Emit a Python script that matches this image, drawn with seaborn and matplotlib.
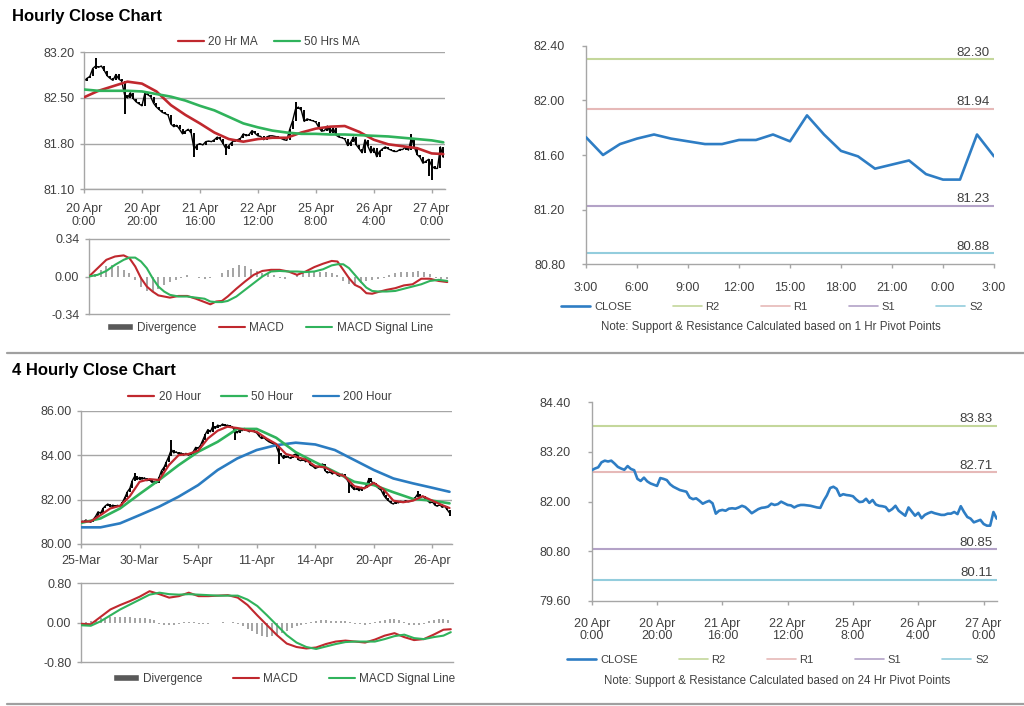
import numpy as np
import pandas as pd
import matplotlib
matplotlib.use("Agg")
import matplotlib.pyplot as plt
from matplotlib.lines import Line2D
from matplotlib.patches import Patch
import seaborn as sns

# ---------------- data ----------------
# hourly closes, 20 Apr 0:00 ... (bars 0-99)
hr_close_a = [
    82.76, 82.80, 82.83, 82.95, 82.99, 82.97, 82.99, 82.92, 82.84, 82.80,
    82.77, 82.86, 82.79, 82.76, 82.55, 82.50, 82.58, 82.49, 82.44, 82.41,
    82.38, 82.57, 82.55, 82.52, 82.42, 82.36, 82.32, 82.28, 82.26, 82.24,
    82.10, 82.06, 82.08, 82.02, 81.95, 81.99, 82.02, 81.96, 81.71, 81.78,
    81.80, 81.78, 81.83, 81.84, 81.83, 81.86, 81.90, 81.87, 81.80, 81.72,
    81.77, 81.82, 81.85, 81.86, 81.88, 81.95, 81.92, 81.94, 82.00, 81.96,
    81.92, 81.91, 81.86, 81.90, 81.92, 81.92, 81.91, 81.90, 81.88, 81.86,
    81.85, 82.02, 82.15, 82.33, 82.36, 82.31, 82.14, 82.18, 82.16, 82.15,
    82.13, 82.05, 81.99, 82.00, 82.07, 81.97, 82.04, 81.93, 81.90, 81.89,
    81.87, 81.77, 81.82, 81.90, 81.78, 81.72, 81.66, 81.86, 81.76, 81.66,
]
# last 24 hours (3:00 ... 3:00), also bars 100-124 of the hourly series
day_close = [81.73, 81.60, 81.68, 81.72, 81.75, 81.72, 81.70, 81.68, 81.68, 81.71,
             81.71, 81.75, 81.70, 81.89, 81.75, 81.63, 81.59, 81.50, 81.53, 81.56,
             81.46, 81.42, 81.42, 81.75, 81.59]
hr_close = hr_close_a + day_close
hr_spike_bars = [4, 14, 38, 49, 73, 113, 119, 120]
hr_spike_vals = [83.12, 82.25, 81.60, 81.63, 82.44, 81.95, 81.30, 81.25]

hr_ma_x = [0, 5, 10, 15, 20, 25, 30, 35, 40, 45, 50, 55, 60, 65, 70, 75, 80, 85,
           90, 95, 100, 105, 110, 115, 120, 124]
hr_ma20 = [82.51, 82.61, 82.68, 82.75, 82.72, 82.60, 82.39, 82.24, 82.11, 81.97,
           81.87, 81.83, 81.87, 81.89, 81.89, 81.97, 82.03, 82.06, 82.07, 81.98,
           81.86, 81.79, 81.76, 81.73, 81.65, 81.64]
hr_ma50 = [82.63, 82.61, 82.61, 82.61, 82.60, 82.56, 82.52, 82.46, 82.38, 82.31,
           82.21, 82.11, 82.05, 82.00, 81.97, 81.95, 81.95, 81.94, 81.94, 81.93,
           81.92, 81.91, 81.89, 81.87, 81.85, 81.82]

hr_macd_x = [0, 3, 6, 9, 12, 14, 16, 18, 20, 22, 24, 26, 28, 31, 34, 37, 40, 42, 44, 46,
             48, 51, 54, 57, 60, 63, 66, 69, 72, 75, 78, 81, 84, 86, 88, 90, 92, 94, 96,
             98, 100, 103, 106, 109, 112, 115, 118, 121, 124]
hr_macd = [0.00, 0.075, 0.15, 0.18, 0.19, 0.165, 0.09, -0.015, -0.09, -0.135,
           -0.17, -0.18, -0.19, -0.175, -0.175, -0.20, -0.23, -0.25, -0.225, -0.22,
           -0.18, -0.11, -0.045, 0.015, 0.05, 0.06, 0.06, 0.045, 0.015, 0.045,
           0.085, 0.115, 0.14, 0.135, 0.06, -0.015, -0.075, -0.10, -0.15, -0.155,
           -0.14, -0.12, -0.105, -0.08, -0.07, -0.02, -0.02, -0.04, -0.05]
hr_signal = [0.00, 0.015, 0.05, 0.105, 0.15, 0.17, 0.17, 0.135, 0.075, -0.015,
             -0.09, -0.135, -0.165, -0.18, -0.18, -0.19, -0.20, -0.225, -0.23, -0.23,
             -0.22, -0.18, -0.12, -0.06, 0.00, 0.045, 0.05, 0.045, 0.045, 0.04,
             0.045, 0.065, 0.10, 0.11, 0.11, 0.075, 0.015, -0.045, -0.10, -0.13,
             -0.135, -0.135, -0.13, -0.11, -0.09, -0.07, -0.04, -0.03, -0.04]
hr_div_x = list(range(0, 125, 2))
hr_div = [0.00, 0.02, 0.06, 0.09, 0.10, 0.09, 0.06, 0.03, -0.03, -0.09,
          -0.13, -0.13, -0.11, -0.08, -0.05, -0.03, -0.01, 0.01, 0.00, -0.01,
          -0.02, -0.01, 0.00, 0.03, 0.06, 0.08, 0.10, 0.09, 0.07, 0.05,
          0.03, 0.02, 0.01, -0.01, -0.02, 0.00, 0.02, 0.03, 0.04, 0.05,
          0.04, 0.04, 0.03, 0.01, -0.04, -0.07, -0.07, -0.06, -0.04, -0.03,
          -0.02, -0.01, 0.01, 0.03, 0.04, 0.04, 0.04, 0.05, 0.04, 0.02,
          -0.01, -0.02, -0.02]
hr_tick_pos = [0, 20, 40, 60, 80, 100, 120]
hr_tick_labels = ["20 Apr\n0:00", "20 Apr\n20:00", "21 Apr\n16:00", "22 Apr\n12:00",
                  "25 Apr\n8:00", "26 Apr\n4:00", "27 Apr\n0:00"]
day_tick_pos = [0, 3, 6, 9, 12, 15, 18, 21, 24]
day_tick_labels = ["3:00", "6:00", "9:00", "12:00", "15:00", "18:00", "21:00", "0:00", "3:00"]

pivot_names = ["R2", "R1", "S1", "S2"]
pivot_1h = [82.30, 81.94, 81.23, 80.88]
pivot_24h = [83.83, 82.71, 80.85, 80.11]

# 4-hourly closes, 25 Mar ...
h4_close = [
    81.05, 81.00, 81.08, 81.02, 80.98, 81.10, 81.25, 81.45, 81.38, 81.60,
    81.72, 81.80, 81.68, 81.75, 81.70, 81.74, 81.70, 81.88, 82.10, 82.35,
    82.50, 82.85, 83.05, 82.90, 83.00, 82.92, 82.98, 82.85, 82.90, 82.78,
    82.80, 82.75, 83.00, 83.30, 83.45, 83.70, 83.95, 84.25, 84.10, 84.15,
    84.05, 84.10, 84.00, 84.08, 84.00, 84.05, 84.15, 84.35, 84.30, 84.45,
    84.70, 84.95, 85.15, 85.05, 85.30, 85.20, 85.35, 85.30, 85.40, 85.32,
    85.35, 85.30, 85.28, 85.10, 85.00, 85.15, 85.10, 85.20, 85.12, 85.05,
    85.15, 85.05, 85.00, 84.85, 84.75, 84.78, 84.68, 84.60, 84.55, 84.50,
    84.40, 84.10, 84.00, 83.85, 83.95, 83.90, 83.85, 84.00, 84.05, 83.80,
    83.75, 83.85, 83.70, 83.78, 83.55, 83.50, 83.40, 83.45, 83.55, 83.60,
    83.30, 83.20, 83.25, 83.15, 83.25, 83.10, 83.05, 83.15, 83.00, 82.90,
    82.70, 82.55, 82.45, 82.50, 82.40, 82.55, 82.50, 82.65, 82.95, 82.80,
    82.75, 82.60, 82.50, 82.42, 82.20, 82.05, 81.95, 81.85, 81.80, 81.90,
    81.85, 81.92, 81.88, 81.95, 81.90, 81.92, 82.00, 82.10, 82.25, 82.10,
    82.15, 82.05, 81.95, 81.85, 81.90, 81.75, 81.70, 81.78, 81.65, 81.70,
    81.55, 81.40,
]
h4_spike_bars = [22, 37, 54, 63, 81, 110, 138, 151]
h4_spike_vals = [83.18, 84.70, 85.50, 84.70, 83.60, 82.30, 82.40, 81.25]

h4_ma20_x = list(range(0, 149, 4)) + [151]
h4_ma20 = [81.00, 81.02, 81.30, 81.60, 81.72, 82.15, 82.80, 82.92, 82.88, 83.55,
           84.00, 84.05, 84.20, 84.75, 85.10, 85.28, 85.22, 85.12, 85.05, 84.75,
           84.50, 84.05, 83.93, 83.80, 83.50, 83.45, 83.20, 83.05, 82.60, 82.50,
           82.75, 82.45, 81.95, 81.88, 81.95, 82.15, 81.95, 81.75, 81.62]
h4_ma_x = list(range(0, 145, 8)) + [151]
h4_ma50 = [80.95, 81.15, 81.60, 82.25, 82.88, 83.55, 84.15, 84.60, 85.18, 85.18,
           84.78, 84.13, 83.68, 83.25, 82.80, 82.65, 82.33, 82.03, 81.95, 81.83]
h4_ma200 = [80.75, 80.75, 80.93, 81.30, 81.68, 82.13, 82.65, 83.33, 83.85, 84.23,
            84.45, 84.56, 84.48, 84.23, 83.78, 83.33, 82.95, 82.73, 82.53, 82.35]

h4_macd_x = list(range(0, 149, 4)) + [151]
h4_macd = [-0.02, -0.03, 0.12, 0.27, 0.36, 0.44, 0.53, 0.64, 0.58, 0.51,
           0.54, 0.61, 0.54, 0.54, 0.55, 0.56, 0.51, 0.36, 0.15, -0.05,
           -0.25, -0.42, -0.49, -0.52, -0.50, -0.43, -0.38, -0.36, -0.38, -0.40,
           -0.34, -0.26, -0.21, -0.29, -0.35, -0.33, -0.24, -0.14, -0.13]
h4_signal = [-0.05, -0.06, 0.03, 0.15, 0.27, 0.37, 0.47, 0.57, 0.61, 0.58,
             0.57, 0.58, 0.57, 0.56, 0.55, 0.55, 0.55, 0.47, 0.34, 0.15,
             -0.05, -0.25, -0.40, -0.49, -0.53, -0.48, -0.43, -0.39, -0.38, -0.38,
             -0.38, -0.33, -0.27, -0.24, -0.31, -0.33, -0.29, -0.26, -0.19]
h4_div_x = list(range(0, 151, 2))
h4_div = [0.00, 0.01, 0.03, 0.06, 0.09, 0.10, 0.11, 0.12,
          0.12, 0.12, 0.11, 0.10, 0.10, 0.09, 0.08, 0.05,
          -0.02, -0.04, -0.05, -0.04, -0.02, 0.01, 0.02, 0.01,
          -0.02, -0.03, -0.02, -0.01, 0.00, 0.01, 0.00, 0.01,
          -0.03, -0.07, -0.12, -0.17, -0.22, -0.26, -0.28, -0.27,
          -0.24, -0.20, -0.16, -0.10, -0.06, -0.04, -0.02, 0.01,
          0.03, 0.05, 0.05, 0.04, 0.04, 0.03, 0.03, 0.02,
          -0.02, -0.03, -0.04, -0.03, 0.02, 0.04, 0.06, 0.07,
          0.07, 0.05, 0.02, -0.04, -0.05, -0.05, -0.03, 0.03,
          0.06, 0.07, 0.07, 0.06]
h4_tick_pos = [0, 24, 48, 72, 96, 120, 144]
h4_tick_labels = ["25-Mar", "30-Mar", "5-Apr", "11-Apr", "14-Apr", "20-Apr", "26-Apr"]

# ---------------- style ----------------
sns.set_style("ticks")
plt.rcParams["font.family"] = ["Liberation Sans", "DejaVu Sans"]

RED = "#c0282e"
GREEN = "#30b35c"
BLUE = "#2b7cc1"
CLOSE_BLUE = "#2e7dc4"
PIV_COLORS = ["#c4d79b", "#e6b9b8", "#b3a2c7", "#93cddd"]
AXC = "#a6a6a6"
TXT = "#404040"
DIVC = "#8c8c8c"

W, H = 1024, 706
fig = plt.figure(figsize=(W / 100, H / 100), dpi=100)


def add_ax(l, r, t, b):
    return fig.add_axes([l / W, 1 - b / H, (r - l) / W, (b - t) / H])


def base_style(ax, grid=False, xpad=7, ypad=4, size=9):
    for s in ["top", "right"]:
        ax.spines[s].set_visible(False)
    for s in ["left", "bottom"]:
        ax.spines[s].set_color(AXC)
        ax.spines[s].set_linewidth(1.0)
    ax.tick_params(axis="both", colors=AXC, labelcolor=TXT, labelsize=size,
                   length=3, width=1, direction="out")
    ax.tick_params(axis="x", pad=xpad)
    ax.tick_params(axis="y", pad=ypad)
    if grid:
        ax.yaxis.grid(True, color=AXC, lw=1.0)
        ax.set_axisbelow(True)
    ax.set_xlabel("")
    ax.set_ylabel("")


def draw_bars(ax, close, sb, sv):
    x = np.arange(len(close))
    c = np.array(close, dtype=float)
    o = np.r_[c[0], c[:-1]]
    lo = np.minimum(o, c)
    hi = np.maximum(o, c)
    for b, v in zip(sb, sv):
        hi[b] = max(hi[b], v)
        lo[b] = min(lo[b], v)
    ax.vlines(x, lo, hi, color="black", lw=1.4, zorder=2)
    sns.lineplot(x=x, y=c, ax=ax, color="black", lw=1.0, zorder=2)


def macd_panel(ax, mx, macd, sig, dx, div, lim, xmax):
    ax.vlines(dx, 0, div, color=DIVC, lw=1.1, zorder=2)
    sns.lineplot(x=mx, y=macd, ax=ax, color=RED, lw=1.5, zorder=3)
    sns.lineplot(x=mx, y=sig, ax=ax, color=GREEN, lw=1.5, zorder=3)
    ax.set_ylim(-lim, lim)
    ax.set_xlim(0, xmax)
    ax.set_yticks([-lim, 0, lim])
    ax.set_yticklabels([f"{-lim:.2f}", "0.00", f"{lim:.2f}"])
    ax.axhline(lim, color=AXC, lw=1.0, zorder=1, clip_on=False)
    base_style(ax)
    ax.set_xticks([])


def legend(handles, labels, cx, cy, size=8.5, hl=2.2, cs=1.4):
    fig.legend(handles, labels, loc="center", bbox_to_anchor=(cx / W, 1 - cy / H),
               ncol=len(handles), frameon=False, fontsize=size, handlelength=hl,
               handletextpad=0.35, columnspacing=cs, handleheight=0.5,
               labelcolor=TXT, borderaxespad=0, borderpad=0)


def pivot_panel(ax, close, xmax, piv, ylim, yticks):
    for v, col in zip(piv, PIV_COLORS):
        ax.axhline(v, color=col, lw=1.5, zorder=1)
        ax.annotate(f"{v:.2f}", xy=(1, v), xycoords=("axes fraction", "data"),
                    xytext=(-3, 2.5), textcoords="offset points", ha="right",
                    va="baseline", fontsize=9.5, color=TXT)
    sns.lineplot(x=np.arange(len(close)), y=close, ax=ax, color=CLOSE_BLUE, lw=1.9, zorder=3)
    ax.set_xlim(0, xmax)
    ax.set_ylim(*ylim)
    ax.set_yticks(yticks)
    ax.set_yticklabels([f"{t:.2f}" for t in yticks])


# ---------------- titles & separators ----------------
fig.text(12 / W, 1 - 16 / H, "Hourly Close Chart", fontsize=12, fontweight="bold",
         va="center", ha="left", color="black")
fig.text(12 / W, 1 - 370 / H, "4 Hourly Close Chart", fontsize=12, fontweight="bold",
         va="center", ha="left", color="black")
fig.add_artist(Line2D([7 / W, 1], [1 - 352.7 / H] * 2, color="#a0a0a0", lw=1.6))
fig.add_artist(Line2D([7 / W, 1], [1 - 704.3 / H] * 2, color="#a0a0a0", lw=1.6))

# ---------------- top-left: hourly price ----------------
ax1 = add_ax(84, 445, 52.3, 189.3)
draw_bars(ax1, hr_close, hr_spike_bars, hr_spike_vals)
sns.lineplot(x=hr_ma_x, y=hr_ma20, ax=ax1, color=RED, lw=1.9, zorder=3)
sns.lineplot(x=hr_ma_x, y=hr_ma50, ax=ax1, color=GREEN, lw=1.9, zorder=3)
ax1.set_xlim(0, 124.6)
ax1.set_ylim(81.10, 83.20)
ax1.set_yticks([81.10, 81.80, 82.50, 83.20])
ax1.set_yticklabels(["81.10", "81.80", "82.50", "83.20"])
ax1.set_xticks(hr_tick_pos)
ax1.set_xticklabels(hr_tick_labels, linespacing=1.05)
base_style(ax1, grid=True, xpad=7)
legend([Line2D([], [], color=RED, lw=1.6), Line2D([], [], color=GREEN, lw=1.6)],
       ["20 Hr MA", "50 Hrs MA"], 269, 42)

# ---------------- top-left: hourly MACD ----------------
ax2 = add_ax(89, 449, 238.7, 314.3)
macd_panel(ax2, hr_macd_x, hr_macd, hr_signal, hr_div_x, hr_div, 0.34, 124.6)
legend([Patch(facecolor="#595959"), Line2D([], [], color=RED, lw=1.5),
        Line2D([], [], color=GREEN, lw=1.5)],
       ["Divergence", "MACD", "MACD Signal Line"], 270, 328, cs=1.9)

# ---------------- top-right: last 24h with pivots ----------------
ax3 = add_ax(586, 994, 45.7, 264.3)
pivot_panel(ax3, day_close, 24, pivot_1h, (80.80, 82.40), [80.80, 81.20, 81.60, 82.00, 82.40])
ax3.set_xticks(day_tick_pos)
ax3.set_xticklabels(day_tick_labels)
base_style(ax3, xpad=10, ypad=12)
legend([Line2D([], [], color=CLOSE_BLUE, lw=1.9)] +
       [Line2D([], [], color=c, lw=1.2) for c in PIV_COLORS],
       ["CLOSE"] + pivot_names, 772, 307, size=8, hl=2.6, cs=3.7)
fig.text(771 / W, 1 - 327 / H, "Note: Support & Resistance Calculated based on 1 Hr Pivot Points",
         ha="center", va="center", fontsize=8.3, color=TXT)

# ---------------- bottom-left: 4 hourly price ----------------
ax4 = add_ax(81, 451.7, 410.7, 544)
draw_bars(ax4, h4_close, h4_spike_bars, h4_spike_vals)
sns.lineplot(x=h4_ma_x, y=h4_ma200, ax=ax4, color=BLUE, lw=1.9, zorder=3)
sns.lineplot(x=h4_ma_x, y=h4_ma50, ax=ax4, color=GREEN, lw=1.9, zorder=3)
sns.lineplot(x=h4_ma20_x, y=h4_ma20, ax=ax4, color=RED, lw=1.6, zorder=4)
ax4.set_xlim(0, 151.9)
ax4.set_ylim(80, 86)
ax4.set_yticks([80, 82, 84, 86])
ax4.set_yticklabels(["80.00", "82.00", "84.00", "86.00"])
ax4.set_xticks(h4_tick_pos)
ax4.set_xticklabels(h4_tick_labels)
base_style(ax4, grid=True, xpad=5)
legend([Line2D([], [], color=RED, lw=1.6), Line2D([], [], color=GREEN, lw=1.6),
        Line2D([], [], color=BLUE, lw=1.6)],
       ["20 Hour", "50 Hour", "200 Hour"], 260, 397, cs=1.7)

# ---------------- bottom-left: 4 hourly MACD ----------------
ax5 = add_ax(81, 453, 583.3, 662.3)
macd_panel(ax5, h4_macd_x, h4_macd, h4_signal, h4_div_x, h4_div, 0.80, 151.9)
legend([Patch(facecolor="#595959"), Line2D([], [], color=RED, lw=1.5),
        Line2D([], [], color=GREEN, lw=1.5)],
       ["Divergence", "MACD", "MACD Signal Line"], 284, 679, cs=2.6)

# ---------------- bottom-right: hourly close with 24h pivots ----------------
ax6 = add_ax(591.7, 996.7, 402.3, 601)
pivot_panel(ax6, hr_close, 124, pivot_24h, (79.60, 84.40), [79.60, 80.80, 82.00, 83.20, 84.40])
ax6.set_xticks(hr_tick_pos)
ax6.set_xticklabels(hr_tick_labels, linespacing=1.05)
base_style(ax6, xpad=9, ypad=12)
legend([Line2D([], [], color=CLOSE_BLUE, lw=1.9)] +
       [Line2D([], [], color=c, lw=1.2) for c in PIV_COLORS],
       ["CLOSE"] + pivot_names, 778, 660, size=8, hl=2.6, cs=3.7)
fig.text(777 / W, 1 - 681 / H, "Note: Support & Resistance Calculated based on 24 Hr Pivot Points",
         ha="center", va="center", fontsize=8.3, color=TXT)

fig.savefig("out.png", dpi=100)
